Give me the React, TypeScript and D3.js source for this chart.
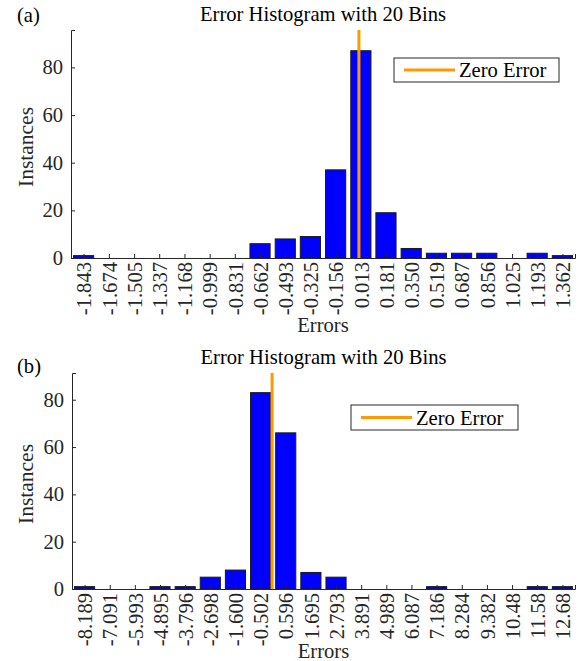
import React, { useEffect, useRef } from 'react';
import * as d3 from 'd3';

// bin centre labels and counts
const binsA = ['-1.843', '-1.674', '-1.505', '-1.337', '-1.168', '-0.999', '-0.831', '-0.662', '-0.493', '-0.325',
  '-0.156', '0.013', '0.181', '0.350', '0.519', '0.687', '0.856', '1.025', '1.193', '1.362'];
const countsA = [1, 0, 0, 0, 0, 0, 0, 6, 8, 9, 37, 87, 19, 4, 2, 2, 2, 0, 2, 1];

const binsB = ['-8.189', '-7.091', '-5.993', '-4.895', '-3.796', '-2.698', '-1.600', '-0.502', '0.596', '1.695',
  '2.793', '3.891', '4.989', '6.087', '7.186', '8.284', '9.382', '10.48', '11.58', '12.68'];
const countsB = [1, 0, 0, 1, 1, 5, 8, 83, 66, 7, 5, 0, 0, 0, 1, 0, 0, 0, 1, 1];

const yTicks = [0, 20, 40, 60, 80];
const title = 'Error Histogram with 20 Bins';
const legendLabel = 'Zero Error';

const FONT = '"Liberation Serif", "Times New Roman", serif';
const FS = 20.6;

const panels = [
  { tag: '(a)', bins: binsA, counts: countsA, left: 71, right: 575, top: 30, bottom: 258, tagY: 22, titleY: 21, xlabY: 332, legX: 394, legY: 58, legW: 165, legH: 24 },
  { tag: '(b)', bins: binsB, counts: countsB, left: 72, right: 575, top: 373, bottom: 589, tagY: 373, titleY: 364, xlabY: 658, legX: 351, legY: 405, legW: 167, legH: 25 },
];

function drawPanel(svg, p) {
  const centers = p.bins.map(Number);
  const w = (centers[centers.length - 1] - centers[0]) / (centers.length - 1);
  const x = d3.scaleLinear()
    .domain([centers[0] - w / 2, centers[centers.length - 1] + w / 2])
    .range([p.left, p.right]);
  const y = d3.scaleLinear()
    .domain([0, d3.max(p.counts) * 1.1])
    .range([p.bottom, p.top]);

  const g = svg.append('g');
  const bw = (x(w) - x(0)) * 0.8;

  g.selectAll('rect.bar').data(p.counts).enter().append('rect')
    .attr('class', 'bar')
    .attr('x', (d, i) => x(centers[i]) - bw / 2)
    .attr('y', d => y(d))
    .attr('width', bw)
    .attr('height', d => y(0) - y(d))
    .attr('fill', '#0000ff')
    .attr('stroke', '#1a1a1a')
    .attr('stroke-width', 1);

  // x axis: ticks point inward, labels rotated
  const xa = g.append('g').attr('transform', `translate(0,${p.bottom})`)
    .call(d3.axisBottom(x).tickValues(centers).tickSize(-4).tickFormat((d, i) => p.bins[i]));
  xa.select('.domain').attr('stroke', '#262626');
  xa.selectAll('.tick line').attr('stroke', '#262626');
  xa.selectAll('.tick text')
    .attr('font-family', FONT).attr('font-size', FS).attr('fill', '#262626')
    .attr('transform', 'rotate(-90)')
    .attr('text-anchor', 'end')
    .attr('x', -4).attr('y', 0).attr('dy', '0.35em');

  const ya = g.append('g').attr('transform', `translate(${p.left},0)`)
    .call(d3.axisLeft(y).tickValues(yTicks).tickSize(-4).tickPadding(8));
  ya.select('.domain').attr('stroke', '#262626');
  ya.selectAll('.tick line').attr('stroke', '#262626');
  ya.selectAll('.tick text').attr('font-family', FONT).attr('font-size', FS).attr('fill', '#262626');

  // zero error line
  g.append('line')
    .attr('x1', x(0)).attr('x2', x(0))
    .attr('y1', p.top).attr('y2', p.bottom)
    .attr('stroke', '#ff9900').attr('stroke-width', 3);

  const cx = (p.left + p.right) / 2;
  g.append('text').text(title).attr('x', cx).attr('y', p.titleY)
    .attr('text-anchor', 'middle').attr('font-family', FONT).attr('font-size', FS).attr('fill', '#000');
  g.append('text').text(p.tag).attr('x', 17).attr('y', p.tagY)
    .attr('font-family', FONT).attr('font-size', FS).attr('fill', '#000');
  g.append('text').text('Errors').attr('x', cx).attr('y', p.xlabY)
    .attr('text-anchor', 'middle').attr('font-family', FONT).attr('font-size', FS).attr('fill', '#262626');
  g.append('text').text('Instances')
    .attr('transform', `translate(33,${(p.top + p.bottom) / 2 + 3}) rotate(-90)`)
    .attr('text-anchor', 'middle').attr('font-family', FONT).attr('font-size', 21.5).attr('fill', '#262626');

  // legend
  const lg = g.append('g').attr('transform', `translate(${p.legX},${p.legY})`);
  lg.append('rect').attr('width', p.legW).attr('height', p.legH)
    .attr('fill', '#fff').attr('stroke', '#262626').attr('stroke-width', 1);
  lg.append('line').attr('x1', 10).attr('x2', 61).attr('y1', p.legH / 2).attr('y2', p.legH / 2)
    .attr('stroke', '#ff9900').attr('stroke-width', 3);
  lg.append('text').text(legendLabel).attr('x', 65).attr('y', p.legH / 2).attr('dy', '0.35em')
    .attr('font-family', FONT).attr('font-size', FS).attr('fill', '#000');
}

export default function App() {
  const ref = useRef(null);
  useEffect(() => {
    const svg = d3.select(ref.current);
    svg.selectAll('*').remove();
    panels.forEach(p => drawPanel(svg, p));
  }, []);
  return (
    <svg ref={ref} width={581} height={661}
      style={{ position: 'absolute', left: 0, top: 0, background: '#fff' }} />
  );
}
